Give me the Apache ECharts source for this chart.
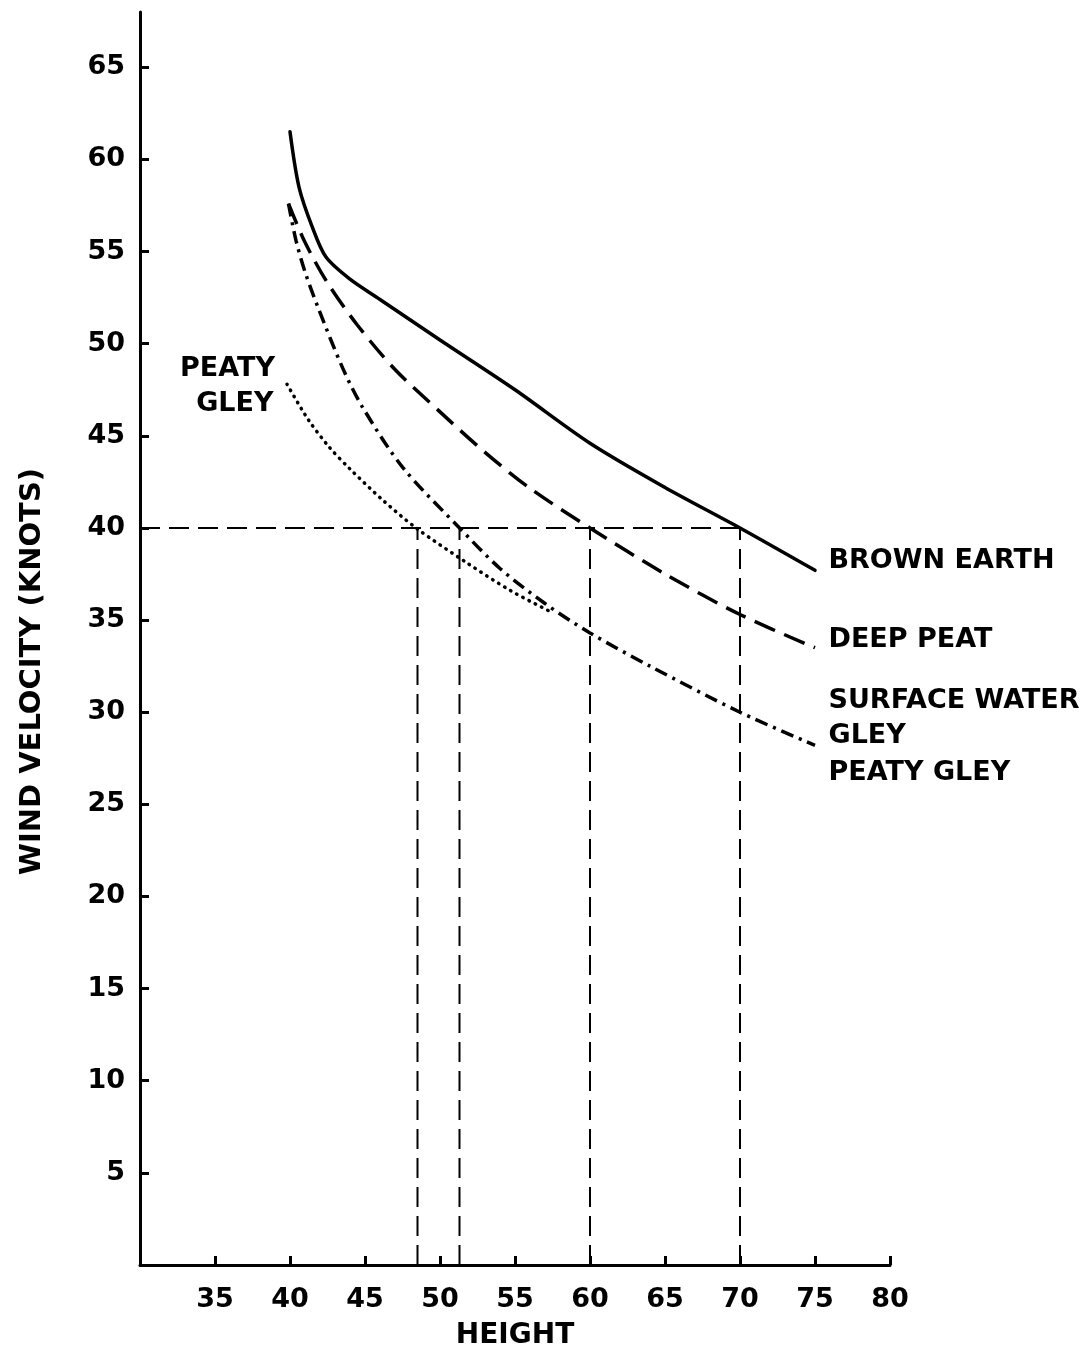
<!DOCTYPE html>
<html>
<head>
<meta charset="utf-8">
<script src="https://cdn.jsdelivr.net/npm/echarts@6/dist/echarts.min.js"></script>
<style>
html,body{margin:0;padding:0;background:#fff;}
#chart{width:1087px;height:1355px;}
</style>
</head>
<body>
<div id="chart"></div>
<script>
// ---- Data ----
const xTickValues = [35, 40, 45, 50, 55, 60, 65, 70, 75, 80];
const yTickValues = [5, 10, 15, 20, 25, 30, 35, 40, 45, 50, 55, 60, 65];

const brownEarth = [[40,61.5],[40.6,58.5],[41.5,56.3],[42.4,54.7],[44,53.5],[46,52.4],[50,50.2],[55,47.5],[60,44.6],[65,42.2],[70,40.0],[75,37.7]];
const deepPeat = [[39.9,57.6],[41,55.5],[42.5,53.3],[44.5,51.0],[47,48.6],[50,46.3],[53,44.1],[56,42.15],[60,40.0],[65,37.5],[70,35.3],[75,33.5]];
const surfaceWaterGley = [[39.9,57.6],[40.4,55.6],[41.0,53.9],[41.9,51.9],[43.5,48.7],[44.8,46.6],[47.5,43.3],[51.3,40.0],[54,37.8],[57,35.9],[60,34.3],[64,32.5],[70,30.0],[75,28.2]];
const peatyGley = [[39.8,47.8],[41.2,45.9],[42.6,44.4],[44,43.2],[46.2,41.5],[48.4,40.0],[51.8,38.1],[54.7,36.6],[57.5,35.4]];

const refY = 40;
const refXs = [48.5, 51.3, 60, 70];

const labelNames = ['BROWN EARTH', 'DEEP PEAT', 'SURFACE WATER', 'GLEY', 'PEATY GLEY'];
const labelX = [75.9, 75.9, 75.9, 75.9, 75.9];
const labelY = [38.2, 33.9, 30.6, 28.7, 26.7];
const leftLabelNames = ['PEATY', 'GLEY'];
const leftLabelX = [39.0, 38.9];
const leftLabelY = [48.6, 46.7];

// ---- Build options ----
const FONT = 'DejaVu Sans';
const refLineStyle = {color: '#000', width: 2, type: [20, 9]};
const textStyle = {color:'#000', fontFamily:FONT, fontWeight:'bold', fontSize:27, opacity:1};

const series = [
  {type:'line', name:'BROWN EARTH', data: brownEarth, smooth: 0.3, symbol:'none',
   lineStyle:{color:'#000', width:3.5, cap:'round'}, z:5},
  {type:'line', name:'DEEP PEAT', data: deepPeat, smooth: 0.3, symbol:'none',
   lineStyle:{color:'#000', width:3.5, type:[22,10]}, z:5},
  {type:'line', name:'SURFACE WATER GLEY', data: surfaceWaterGley, smooth: 0.3, symbol:'none',
   lineStyle:{color:'#000', width:3.5, type:[13,6,3,6]}, z:5},
  {type:'line', name:'PEATY GLEY', data: peatyGley, smooth: 0.3, symbol:'none',
   lineStyle:{color:'#000', width:3.5, type:[0.5,6.5], cap:'round'}, z:5},
  {type:'line', name:'ref-h', data: [[30, refY], [refXs[refXs.length-1], refY]], symbol:'none',
   lineStyle: refLineStyle, z:3}
];
refXs.forEach(function(x){
  series.push({type:'line', name:'ref-v', data: [[x, 0], [x, refY]], symbol:'none', lineStyle: refLineStyle, z:3});
});
series.push({
  type:'scatter', symbolSize:0, silent:true, itemStyle:{opacity:1, color:'#000'},
  data: labelNames.map(function(n,i){ return {name:n, value:[labelX[i], labelY[i]]}; }),
  label:Object.assign({show:true, position:[0,0], align:'left', verticalAlign:'middle', formatter:'{b}'}, textStyle)
});
series.push({
  type:'scatter', symbolSize:0, silent:true, itemStyle:{opacity:1, color:'#000'},
  data: leftLabelNames.map(function(n,i){ return {name:n, value:[leftLabelX[i], leftLabelY[i]]}; }),
  label:Object.assign({show:true, position:[0,0], align:'right', verticalAlign:'middle', formatter:'{b}'}, textStyle)
});

const chart = echarts.init(document.getElementById('chart'), null, {renderer:'canvas'});
chart.setOption({
  backgroundColor:'#fff',
  animation:false,
  grid:{left:140, right:197, top:12, bottom:90, containLabel:false},
  xAxis:{
    type:'value', min:30, max:80, interval:5,
    name:'HEIGHT', nameLocation:'middle', nameGap:57,
    nameTextStyle:{color:'#000', fontFamily:FONT, fontWeight:'bold', fontSize:28},
    axisLine:{show:true, onZero:false, lineStyle:{color:'#000', width:3}},
    axisTick:{show:true, inside:true, length:9, customValues:xTickValues, lineStyle:{color:'#000', width:3}},
    axisLabel:{show:true, margin:21, customValues:xTickValues, color:'#000', fontFamily:FONT, fontWeight:'bold', fontSize:27},
    splitLine:{show:false}
  },
  yAxis:{
    type:'value', min:0, max:68, interval:5,
    name:'WIND VELOCITY (KNOTS)', nameLocation:'middle', nameGap:93, nameRotate:90,
    nameTextStyle:{color:'#000', fontFamily:FONT, fontWeight:'bold', fontSize:29, padding:[0,66,0,0]},
    axisLine:{show:true, onZero:false, lineStyle:{color:'#000', width:3}},
    axisTick:{show:true, inside:true, length:9, customValues:yTickValues, lineStyle:{color:'#000', width:3}},
    axisLabel:{show:true, margin:15, customValues:yTickValues, color:'#000', fontFamily:FONT, fontWeight:'bold', fontSize:27},
    splitLine:{show:false}
  },
  series: series
});
</script>
</body>
</html>
